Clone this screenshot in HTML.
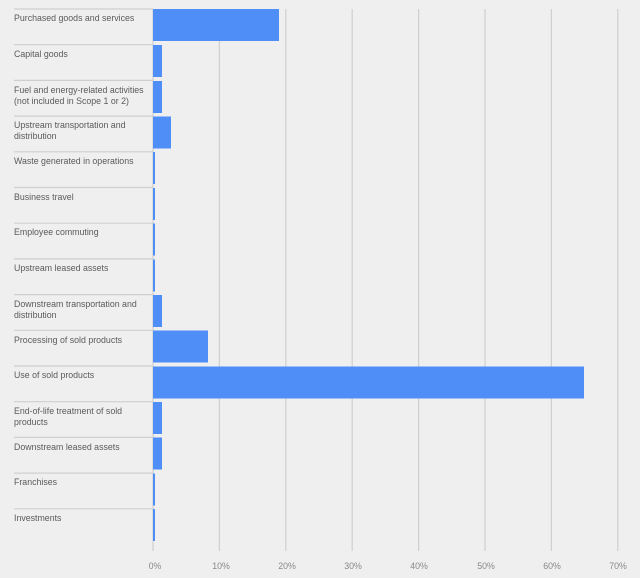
<!DOCTYPE html>
<html><head><meta charset="utf-8"><style>
body{margin:0;background:#efefef;}
svg{display:block}
text{font-family:"Liberation Sans",sans-serif;font-size:8.8px;fill:#5a5a5a}
</style></head><body>
<svg width="640" height="578" viewBox="0 0 640 578">
<rect width="640" height="578" fill="#efefef"/>
<g stroke="#cfcfcf" stroke-width="1.2">
<line x1="219.4" y1="9" x2="219.4" y2="551"/>
<line x1="285.8" y1="9" x2="285.8" y2="551"/>
<line x1="352.2" y1="9" x2="352.2" y2="551"/>
<line x1="418.6" y1="9" x2="418.6" y2="551"/>
<line x1="485" y1="9" x2="485" y2="551"/>
<line x1="551.4" y1="9" x2="551.4" y2="551"/>
<line x1="617.8" y1="9" x2="617.8" y2="551"/>
<line x1="153" y1="9" x2="153" y2="551"/>
</g>
<g stroke="#cfcfcf" stroke-width="1.2">
<line x1="14" x2="153" y1="9" y2="9"/><line x1="14" x2="153" y1="44.7" y2="44.7"/><line x1="14" x2="153" y1="80.4" y2="80.4"/><line x1="14" x2="153" y1="116.1" y2="116.1"/><line x1="14" x2="153" y1="151.8" y2="151.8"/><line x1="14" x2="153" y1="187.5" y2="187.5"/><line x1="14" x2="153" y1="223.2" y2="223.2"/><line x1="14" x2="153" y1="258.9" y2="258.9"/><line x1="14" x2="153" y1="294.6" y2="294.6"/><line x1="14" x2="153" y1="330.3" y2="330.3"/><line x1="14" x2="153" y1="366" y2="366"/><line x1="14" x2="153" y1="401.7" y2="401.7"/><line x1="14" x2="153" y1="437.4" y2="437.4"/><line x1="14" x2="153" y1="473.1" y2="473.1"/><line x1="14" x2="153" y1="508.8" y2="508.8"/>
</g>
<g fill="#4f8ef7">
<rect x="153" y="9" width="126" height="32"/>
<rect x="153" y="45" width="9" height="32"/>
<rect x="153" y="81" width="9" height="32"/>
<rect x="153" y="116.5" width="18" height="32"/>
<rect x="153" y="152" width="2" height="32"/>
<rect x="153" y="188" width="2" height="32"/>
<rect x="153" y="223.5" width="2" height="32"/>
<rect x="153" y="259.5" width="2" height="32"/>
<rect x="153" y="295" width="9" height="32"/>
<rect x="153" y="330.5" width="55" height="32"/>
<rect x="153" y="366.5" width="431" height="32"/>
<rect x="153" y="402" width="9" height="32"/>
<rect x="153" y="437.5" width="9" height="32"/>
<rect x="153" y="473.5" width="2" height="32"/>
<rect x="153" y="509" width="2" height="32"/>
</g>
<text x="14" y="21">Purchased goods and services</text>
<text x="14" y="57">Capital goods</text>
<text x="14" y="93">Fuel and energy-related activities</text>
<text x="14" y="104">(not included in Scope 1 or 2)</text>
<text x="14" y="128">Upstream transportation and</text>
<text x="14" y="139">distribution</text>
<text x="14" y="164">Waste generated in operations</text>
<text x="14" y="200">Business travel</text>
<text x="14" y="235">Employee commuting</text>
<text x="14" y="271">Upstream leased assets</text>
<text x="14" y="307">Downstream transportation and</text>
<text x="14" y="318">distribution</text>
<text x="14" y="343">Processing of sold products</text>
<text x="14" y="378">Use of sold products</text>
<text x="14" y="414">End-of-life treatment of sold</text>
<text x="14" y="425">products</text>
<text x="14" y="450">Downstream leased assets</text>
<text x="14" y="485">Franchises</text>
<text x="14" y="521">Investments</text>
<g text-anchor="middle">
<text x="155" y="569" style="fill:#888">0%</text>
<text x="221" y="569" style="fill:#888">10%</text>
<text x="287" y="569" style="fill:#888">20%</text>
<text x="353" y="569" style="fill:#888">30%</text>
<text x="419" y="569" style="fill:#888">40%</text>
<text x="486" y="569" style="fill:#888">50%</text>
<text x="552" y="569" style="fill:#888">60%</text>
<text x="618" y="569" style="fill:#888">70%</text>
</g>
</svg>
</body></html>
